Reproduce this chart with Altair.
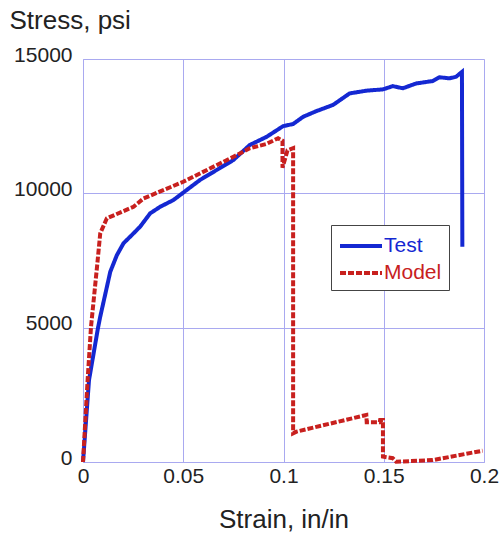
import altair as alt
import pandas as pd

test_strain = [0, 0.003, 0.0075, 0.0086, 0.0136, 0.0169, 0.0202, 0.0252, 0.0285, 0.0335,
               0.0385, 0.0451, 0.0584, 0.075, 0.0832, 0.0915, 0.0998, 0.1048, 0.1098,
               0.1164, 0.1247, 0.133, 0.1413, 0.1496, 0.1545, 0.1595, 0.1662, 0.1744,
               0.1778, 0.1828, 0.1861, 0.189, 0.1892]
test_stress = [0, 3050, 5000, 5410, 7080, 7700, 8140, 8510, 8760, 9255,
               9500, 9750, 10500, 11240, 11800, 12100, 12500, 12580, 12850,
               13060, 13290, 13720, 13820, 13870, 13990, 13910, 14090, 14180,
               14320, 14280, 14340, 14520, 8010]

model_strain = [0, 0.0023, 0.004, 0.007, 0.0086, 0.0119, 0.0252, 0.0302, 0.05, 0.075,
                0.0832, 0.0915, 0.0973, 0.0987, 0.0995, 0.0995, 0.1020, 0.1048, 0.1048,
                0.1065, 0.1413, 0.1415, 0.148, 0.1482, 0.1496, 0.1496, 0.1545, 0.1562,
                0.1744, 0.1993]
model_stress = [0, 3050, 5035, 7270, 8510, 9070, 9500, 9810, 10430, 11360,
                11680, 11840, 12050, 11990, 11960, 10950, 11600, 11680, 1070,
                1130, 1750, 1480, 1480, 1560, 1560, 200, 140, 10,
                70, 420]

series = ["Test", "Model"]
colors = ["#1428d2", "#c8201e"]

rows = []
for i, (x, y) in enumerate(zip(test_strain, test_stress)):
    rows.append({"series": "Test", "strain": x, "stress": y, "idx": i})
for i, (x, y) in enumerate(zip(model_strain, model_stress)):
    rows.append({"series": "Model", "strain": x, "stress": y, "idx": i})
df = pd.DataFrame(rows)

FONT = "Liberation Sans"
GRID = "#a9a9f0"

chart = alt.Chart(df).mark_line(strokeWidth=4, strokeJoin="miter", strokeCap="butt").encode(
    x=alt.X("strain:Q",
            scale=alt.Scale(domain=[0, 0.2], nice=False, zero=False),
            axis=alt.Axis(values=[0, 0.05, 0.1, 0.15, 0.2], title="Strain, in/in",
                          labelExpr="datum.value == 0 ? '0' : format(datum.value, '~g')",
                          grid=True, gridColor=GRID, gridWidth=1, ticks=False,
                          domainColor=GRID, labelFont=FONT, labelFontSize=21,
                          labelColor="#222", labelBaseline="alphabetic", labelPadding=20,
                          labelFlush=False, labelOverlap=False,
                          titleFont=FONT, titleFontSize=26, titleFontWeight="normal",
                          titleColor="#222", titleBaseline="alphabetic", titleY=65)),
    y=alt.Y("stress:Q",
            scale=alt.Scale(domain=[0, 15000], nice=False),
            axis=alt.Axis(values=[0, 5000, 10000, 15000], title="Stress, psi", format="d",
                          grid=True, gridColor=GRID, gridWidth=1, ticks=False,
                          domainColor=GRID, labelFont=FONT, labelFontSize=21,
                          labelColor="#222", labelPadding=11, labelOffset=-4,
                          labelFlush=False, labelOverlap=False,
                          titleFont=FONT, titleFontSize=26, titleFontWeight="normal",
                          titleColor="#222", titleAngle=0, titleAlign="left",
                          titleBaseline="alphabetic", titleX=-74, titleY=-31)),
    color=alt.Color("series:N", scale=alt.Scale(domain=series, range=colors),
                    legend=alt.Legend(title=None, orient="none", legendX=248, legendY=166,
                                      symbolType="M-1,0H2.5", symbolSize=576,
                                      symbolStrokeWidth=4, labelFont=FONT,
                                      labelFontSize=21, labelOffset=18, rowPadding=3,
                                      padding=7, strokeColor="#444", fillColor="white",
                                      labelColor=alt.ExprRef(
                                          "datum.label == 'Test' ? '#1428d2' : '#c8201e'"))),
    strokeDash=alt.StrokeDash("series:N",
                              scale=alt.Scale(domain=series, range=[[1, 0], [6, 2]]),
                              legend=None),
    order="idx:Q",
).properties(
    width=401, height=403, autosize="none",
    padding={"left": 83, "top": 59, "right": 15, "bottom": 71},
).configure_view(stroke=GRID, strokeWidth=1).configure(background="white")

chart.save("out.html", embed_options={"renderer": "svg", "actions": False})
